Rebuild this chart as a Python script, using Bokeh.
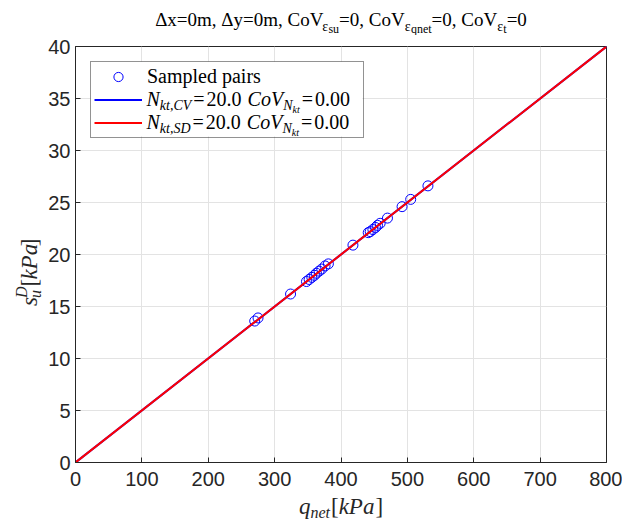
import math
from bokeh.plotting import figure
from bokeh.models import Range1d, Label, Legend, LegendItem, FixedTicker, BoxAnnotation
from bokeh.layouts import column, row
from bokeh.embed import file_html
from bokeh.resources import INLINE

# ---------------- data ----------------
q_net = [270, 275, 324, 348, 352, 356, 360, 363, 367, 371, 376, 381,
         418, 441, 444, 448, 452, 455, 459, 470, 492, 505, 531]
s_u = [13.6, 13.9, 16.2, 17.4, 17.6, 17.8, 18.0, 18.2, 18.4, 18.6, 18.9, 19.1,
       20.9, 22.1, 22.2, 22.4, 22.6, 22.8, 23.0, 23.5, 24.6, 25.3, 26.6]
line_q = [0, 800]
s_cv = [0, 40]   # N_kt,CV = 20
s_sd = [0, 40]   # N_kt,SD = 20
x_ticks = [0, 100, 200, 300, 400, 500, 600, 700, 800]
y_ticks = [0, 5, 10, 15, 20, 25, 30, 35, 40]

# ---------------- layout (page px) ----------------
TOTAL_W, TOTAL_H = 622, 524
T_H = 35                 # title strip
L_W = 44                 # y-label strip
M_ML, M_MT, M_MR, M_MB = 31, 11, 16, 31
FW, FH = 531, 416
M_W = M_ML + FW + M_MR
M_H = M_MT + FH + M_MB
B_H = TOTAL_H - T_H - M_H
FX0 = L_W + M_ML          # frame left (page)
FY1 = T_H + M_MT + FH     # frame bottom (page)
BASE_FIX = 0.31           # em offset between requested and drawn baseline
ROT_FIX = 16              # along-text offset observed for rotated labels

AX = "#262626"


def strip(w, h):
    f = figure(width=w, height=h, x_range=Range1d(0, w), y_range=Range1d(0, h),
               output_backend="svg", toolbar_location=None,
               x_axis_type=None, y_axis_type=None, min_border=0)
    f.grid.visible = False
    f.outline_line_color = None
    f.background_fill_color = "white"
    f.border_fill_color = "white"
    return f


# ---------------- main plot ----------------
p = figure(width=M_W, height=M_H, x_range=Range1d(0, 800), y_range=Range1d(0, 40),
           output_backend="svg", toolbar_location=None,
           min_border_left=M_ML, min_border_right=M_MR,
           min_border_top=M_MT, min_border_bottom=M_MB)
p.background_fill_color = "white"
p.border_fill_color = "white"
p.outline_line_color = AX
p.outline_line_width = 1

p.xaxis.ticker = FixedTicker(ticks=x_ticks)
p.yaxis.ticker = FixedTicker(ticks=y_ticks)
p.xaxis.major_label_standoff = 9
p.yaxis.major_label_standoff = 5
for ax in list(p.xaxis) + list(p.yaxis):
    ax.major_tick_in = 5
    ax.major_tick_out = 0
    ax.minor_tick_line_color = None
    ax.axis_line_color = AX
    ax.major_tick_line_color = AX
    ax.major_label_text_font = "Liberation Sans"
    ax.major_label_text_font_size = "20px"
    ax.major_label_text_color = AX

p.xgrid.ticker = FixedTicker(ticks=x_ticks)
p.ygrid.ticker = FixedTicker(ticks=y_ticks)
p.grid.grid_line_color = "#e3e3e3"
p.grid.grid_line_width = 1


def mx(px):
    return (px - FX0) * 800.0 / FW


def my(py):
    return (FY1 - py) * 40.0 / FH


# white legend background (below everything else)
LEG_L, LEG_T, LEG_W, LEG_H = 90, 61, 272, 75
p.add_layout(BoxAnnotation(left=mx(LEG_L), right=mx(LEG_L + LEG_W),
                           top=my(LEG_T), bottom=my(LEG_T + LEG_H),
                           fill_color="white", fill_alpha=1.0, line_color=None,
                           level="underlay"))

sc = p.scatter(q_net, s_u, marker="circle", size=10, fill_color=None,
               line_color="#0000ff", line_width=1)
lb = p.line(line_q, s_cv, line_color="#0000ff", line_width=2)
lr = p.line(line_q, s_sd, line_color="#ff0000", line_width=2)

legend = Legend(items=[LegendItem(label="Sampled pairs", renderers=[sc]),
                       LegendItem(label=" ", renderers=[lb]),
                       LegendItem(label=" ", renderers=[lr])],
                location="top_left", margin=15, padding=3, spacing=0,
                glyph_width=48, glyph_height=23, label_height=23, label_width=213,
                label_standoff=5, label_text_font="Liberation Serif",
                label_text_font_size="20px", label_text_color="black",
                border_line_color=AX, border_line_width=1,
                background_fill_alpha=0.0)
p.add_layout(legend)

# ---------------- rich text helpers ----------------
TR = {'Δ': 612, 'x': 500, '=': 564, '0': 500, 'm': 778, ',': 250, ' ': 250, 'y': 500,
      'C': 667, 'o': 500, 'V': 722, 'ε': 440, 's': 389, 'u': 500, 'q': 500, 'n': 500,
      'e': 444, 't': 278, '2': 500, '.': 250, '[': 333, ']': 333}
TI = {'N': 667, 'k': 444, 't': 278, ',': 250, 'C': 667, 'V': 611, 'S': 500, 'D': 722,
      'o': 500, 'q': 500, 'n': 500, 'e': 444, 's': 389, 'u': 500, 'P': 611, 'a': 500}


def tw(s, size, italic):
    tbl = TI if italic else TR
    return sum(tbl.get(c, 500) for c in s) * size / 1000.0


def seg_parts(seg):
    text, size, italic, shift = seg[:4]
    pre = seg[4] if len(seg) > 4 else 0
    adv = seg[5] if len(seg) > 5 else True
    return text, size, italic, shift, pre, adv


def total(segs):
    pos = 0.0
    for seg in segs:
        text, size, italic, shift, pre, adv = seg_parts(seg)
        pos += pre
        if adv:
            pos += tw(text, size, italic)
    return pos


def run(fig, fx, fy, segs, start, base, rot=False, color=AX, font="Liberation Serif"):
    pos = 0.0
    for seg in segs:
        text, size, italic, shift, pre, adv = seg_parts(seg)
        pos += pre
        b = base + shift - BASE_FIX * size
        if not rot:
            x, y = fx(start + pos), fy(b)
        else:
            x, y = fx(b), fy(start - pos)
        fig.add_layout(Label(x=x, y=y, text=text, text_font=font,
                             text_font_size=f"{size}px",
                             text_font_style="italic" if italic else "normal",
                             text_align="left", text_baseline="alphabetic",
                             angle=math.pi / 2 if rot else 0.0, text_color=color))
        if adv:
            pos += tw(text, size, italic)


cx = FX0 + FW / 2.0

# ---------------- title strip ----------------
t = strip(TOTAL_W, T_H)
title = [("Δx=0m, Δy=0m, CoV", 19, False, 0), ("ε", 14, False, 5), ("su", 12, False, 7.5),
         ("=0, CoV", 19, False, 0), ("ε", 14, False, 5), ("qnet", 12, False, 7.5),
         ("=0, CoV", 19, False, 0), ("ε", 14, False, 5), ("t", 12, False, 7.5),
         ("=0", 19, False, 0)]
run(t, lambda px: px, lambda py: T_H - py, title, cx - total(title) / 2.0, 25, color="black")

# ---------------- y-label strip ----------------
ly = strip(L_W, M_H)
yl = [("s", 23, True, 0), ("u", 16, True, 4, 0, False), ("D", 16, True, -10),
      ("[", 23, False, 0, 1), ("kPa", 23, True, 0), ("]", 23, False, 0, 1)]
run(ly, lambda px: px, lambda py: (T_H + M_H) - py, yl,
    268 + ROT_FIX + total(yl) / 2.0, 36, rot=True)

# ---------------- x-label strip ----------------
bx = strip(TOTAL_W, B_H)
xl = [("q", 23, True, 0), ("net", 16, True, 4), ("[", 23, False, 0, 1),
      ("kPa", 23, True, 0), ("]", 23, False, 0, 1)]
run(bx, lambda px: px, lambda py: TOTAL_H - py, xl, cx - total(xl) / 2.0, 513)

# ---------------- legend math entries ----------------
def leg_row(sub):
    return [("N", 20, True, 0), (sub, 14, True, 4), ("=", 20, False, 0, 2),
            ("20.0", 20, False, 0, 2), ("CoV", 20, True, 0, 6), ("N", 14, True, 4),
            ("kt", 10, True, 7), ("=", 20, False, 0, 2), ("0.00", 20, False, 0, 2)]

run(p, mx, my, leg_row("kt,CV"), 146, 105, color="black")
run(p, mx, my, leg_row("kt,SD"), 146, 128, color="black")

layout = column(t, row(ly, p, spacing=0), bx, spacing=0)
open("out.html", "w").write(file_html(layout, INLINE))
